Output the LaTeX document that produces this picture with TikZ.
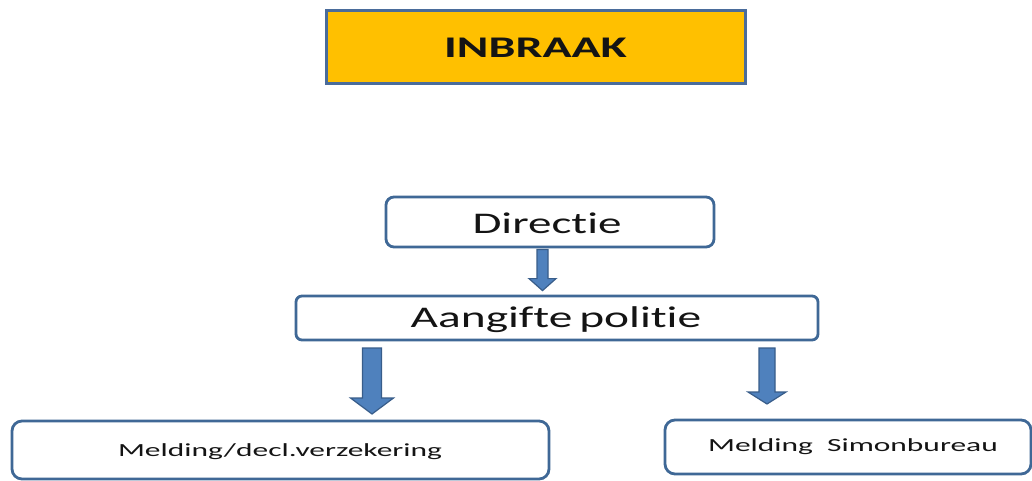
\documentclass[tikz,border=0pt]{standalone}
\usepackage{fontspec}
\setmainfont{Carlito}[Ligatures={NoCommon,NoRequired,NoContextual}]
\usetikzlibrary{calc}

\definecolor{titlefill}{HTML}{FFC000}
\definecolor{titleedge}{HTML}{4A6C9B}
\definecolor{boxedge}{HTML}{3F6896}
\definecolor{arrowfill}{HTML}{4F81BD}
\definecolor{arrowedge}{HTML}{385D8A}
\definecolor{inktext}{HTML}{141414}

% block arrow pointing down: #1 start, #2 tip, #3 shaft width, #4 head width, #5 head length
\newcommand\downblock[5]{%
  \draw[blockarrow] let \p1=(#1), \p2=(#2) in
    (\x1-#3/2,\y1) -- (\x1+#3/2,\y1) -- (\x1+#3/2,\y2+#5) -- (\x1+#4/2,\y2+#5)
    -- (\x1,\y2) -- (\x1-#4/2,\y2+#5) -- (\x1-#3/2,\y2+#5) -- cycle;}

\begin{document}
\begin{tikzpicture}[x=1pt,y=-1pt,
  titlebox/.style={draw=titleedge, line width=3pt, fill=titlefill, inner sep=0pt,
    text=inktext, font=\bfseries\fontsize{30}{30}\selectfont},
  stepbox/.style={draw=boxedge, line width=2.8pt, fill=white, rounded corners=8pt,
    inner sep=0pt, text=inktext},
  bigtext/.style={font=\fontsize{30}{30}\selectfont},
  smalltext/.style={font=\fontsize{18.5}{18.5}\selectfont},
  blockarrow/.style={fill=arrowfill, draw=arrowedge, line width=1.2pt, line join=miter}]
\useasboundingbox[fill=white] (0,0) rectangle (1032,481);

% title
\node[titlebox, minimum width=419pt, minimum height=73pt] (title) at (535.5,47.5)
  {\scalebox{1.6}[1]{INBRAAK}};

% process steps
\node[stepbox, minimum width=328pt, minimum height=50pt] (dir) at (550,222) {};
\node[bigtext, text=inktext] (dirtxt) at (547,223) {\scalebox{1.57}[1]{Directie}};

\node[stepbox, minimum width=522pt, minimum height=44pt, rounded corners=6pt] (aang) at (557,318) {};
\node[bigtext, text=inktext] (aangtxt) at (556,320) {\scalebox{1.58}[1]{Aangifte\kern-0.08em\ politie}};

\node[stepbox, minimum width=537pt, minimum height=58pt, rounded corners=10pt] (verz) at (280.5,450) {};
\node[smalltext, text=inktext] (verztxt) at (280,452) {\scalebox{1.7}[1]{Melding/decl.verzekering}};

\node[stepbox, minimum width=366pt, minimum height=54pt, rounded corners=10pt] (simon) at (848,447) {};
\node[smalltext, text=inktext] (simontxt) at (853,447) {\scalebox{1.7}[1]{Melding\ \ Simonbureau}};

% arrow end points
\coordinate (a1s) at ($(dir.south)+(-7.5,1)$);
\coordinate (a1e) at ($(aang.north)+(-14.5,-4)$);
\coordinate (a2s) at (372,348);
\coordinate (a2e) at (372,414);
\coordinate (a3s) at (767,348);
\coordinate (a3e) at (767,404);

\downblock{a1s}{a1e}{11pt}{27pt}{12pt}
\downblock{a2s}{a2e}{19pt}{43pt}{16pt}
\downblock{a3s}{a3e}{16pt}{38pt}{12pt}
\end{tikzpicture}
\end{document}
